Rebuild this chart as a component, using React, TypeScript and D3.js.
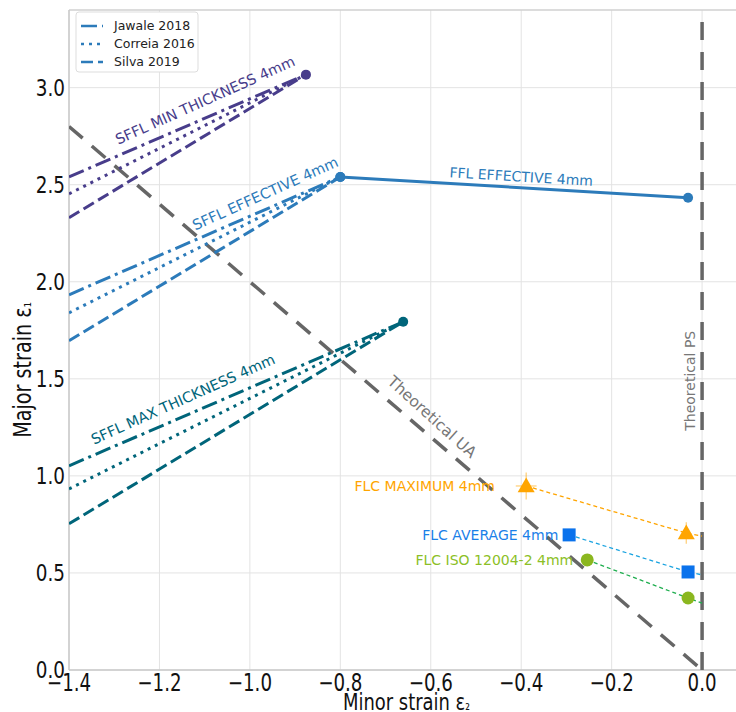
import { scaleLinear, line, range, format } from "d3";

const width = 736;
const height = 712;
const margin = { left: 69, right: 736, top: 10, bottom: 670 };

const xTicks = range(-1.4, 0.01, 0.2);
const yTicks = [0, 0.5, 1.0, 1.5, 2.0, 2.5, 3.0];

// SFFL lines: start at eps2 = -1.4, meet at tip
const sfflNames = ["SFFL MIN THICKNESS 4mm", "SFFL EFFECTIVE 4mm", "SFFL MAX THICKNESS 4mm"];
const sfflColors = ["#483d8b", "#2c7bba", "#00657a"];
const sfflTipX = [-0.876, -0.8, -0.661];
const sfflTipY = [3.067, 2.54, 1.794];
const sfflStartX = -1.4;
const jawaleStartY = [2.54, 1.933, 1.052];
const correiaStartY = [2.453, 1.84, 0.933];
const silvaStartY = [2.33, 1.696, 0.753];
const sfflLabelX = [-1.099, -0.966, -1.148];
const sfflLabelY = [2.935, 2.455, 1.395];

// FFL effective
const fflX = [-0.8, -0.031];
const fflY = [2.54, 2.433];

// FLC series
const flcNames = ["FLC MAXIMUM 4mm", "FLC AVERAGE 4mm", "FLC ISO 12004-2 4mm"];
const flcMarkerColors = ["#ffa500", "#0a72ec", "#8bb71f"];
const flcLineColors = ["#ffa500", "#1aa3e0", "#1fae4f"];
const flcTextColors = ["#ffa500", "#1a80e8", "#8cbf26"];
const flcShapes = ["triangle", "square", "circle"];
const flcX = [[-0.389, -0.035], [-0.294, -0.031], [-0.254, -0.031]];
const flcY = [[0.948, 0.706], [0.696, 0.505], [0.567, 0.371]];
const flcYAtZero = [0.69, 0.49, 0.345];
const flcYErr = [[0.07, 0.055], [0.03, 0.03], [0.03, 0.03]];
const flcXErr = [[0.023, 0.01], [0.01, 0.01], [0.01, 0.01]];
const flcLabelEndX = [-0.458, -0.318, -0.285];

const legendNames = ["Jawale 2018", "Correia 2016", "Silva 2019"];
const styleDash = ["16,5,3,5", "3,5", "12,5"];

const font = "DejaVu Sans";

const App = () => {
  const x = scaleLinear().domain([-1.4, 0.075]).range([margin.left, margin.right]);
  const y = scaleLinear().domain([0, 3.4]).range([margin.bottom, margin.top]);
  const path = line<number[]>()
    .x((d) => x(d[0]))
    .y((d) => y(d[1]));
  const fmt = format(".1f");

  const angle = (x0: number, y0: number, x1: number, y1: number) =>
    (Math.atan2(y(y1) - y(y0), x(x1) - x(x0)) * 180) / Math.PI;

  const uaAngle = angle(-1.4, 2.8, 0, 0);
  const fflAngle = angle(fflX[0], fflY[0], fflX[1], fflY[1]);

  const marker = (shape: string, cx: number, cy: number, color: string, key: string) => {
    if (shape === "triangle") {
      const s = 8.5;
      return (
        <path
          key={key}
          d={`M${cx},${cy - s} L${cx + s},${cy + s * 0.75} L${cx - s},${cy + s * 0.75} Z`}
          fill={color}
        />
      );
    }
    if (shape === "square") {
      return <rect key={key} x={cx - 6.5} y={cy - 6.5} width={13} height={13} fill={color} />;
    }
    return <circle key={key} cx={cx} cy={cy} r={6.5} fill={color} />;
  };

  return (
    <svg
      width={width}
      height={height}
      style={{ position: "absolute", left: 0, top: 0, background: "#fff" }}
      fontFamily={font}
    >
      <defs>
        <clipPath id="plot">
          <rect x={margin.left} y={margin.top} width={margin.right - margin.left} height={margin.bottom - margin.top} />
        </clipPath>
      </defs>

      {/* grid */}
      {xTicks.map((t) => (
        <line key={"gx" + t} x1={x(t)} x2={x(t)} y1={margin.top} y2={margin.bottom} stroke="#e3e3e3" strokeWidth={1} />
      ))}
      {yTicks.map((t) => (
        <line key={"gy" + t} x1={margin.left} x2={margin.right} y1={y(t)} y2={y(t)} stroke="#e3e3e3" strokeWidth={1} />
      ))}

      {/* spines */}
      <line x1={margin.left} x2={margin.right} y1={margin.top} y2={margin.top} stroke="#d0d0d0" strokeWidth={1.5} />
      <line x1={margin.left} x2={margin.left} y1={margin.top} y2={margin.bottom} stroke="#c8c8c8" strokeWidth={1.5} />
      <line x1={margin.left} x2={margin.right} y1={margin.bottom} y2={margin.bottom} stroke="#c8c8c8" strokeWidth={1.5} />

      <g clipPath="url(#plot)">
        {/* theoretical lines */}
        <path d={path([[-1.4, 2.8], [0, 0]]) || ""} stroke="#666" strokeWidth={3.5} strokeDasharray="18,12" fill="none" />
        <line x1={x(0)} x2={x(0)} y1={y(0)} y2={margin.top} stroke="#666" strokeWidth={3.5} strokeDasharray="18,12" />

        {/* SFFL lines */}
        {sfflNames.map((n, i) => {
          const starts = [jawaleStartY[i], correiaStartY[i], silvaStartY[i]];
          return (
            <g key={n}>
              {starts.map((sy, j) => (
                <path
                  key={j}
                  d={path([[sfflStartX, sy], [sfflTipX[i], sfflTipY[i]]]) || ""}
                  stroke={sfflColors[i]}
                  strokeWidth={3}
                  strokeDasharray={styleDash[j]}
                  fill="none"
                />
              ))}
              <circle cx={x(sfflTipX[i])} cy={y(sfflTipY[i])} r={5} fill={sfflColors[i]} />
            </g>
          );
        })}

        {/* FFL */}
        <path d={path(fflX.map((v, k) => [v, fflY[k]])) || ""} stroke="#2c7bba" strokeWidth={3} fill="none" />
        {fflX.map((v, k) => (
          <circle key={k} cx={x(v)} cy={y(fflY[k])} r={5} fill="#2c7bba" />
        ))}

        {/* FLC */}
        {flcNames.map((n, i) => (
          <g key={n}>
            <path
              d={path([[flcX[i][0], flcY[i][0]], [flcX[i][1], flcY[i][1]], [0, flcYAtZero[i]]]) || ""}
              stroke={flcLineColors[i]}
              strokeWidth={1.3}
              strokeDasharray="4,3"
              fill="none"
            />
            {flcX[i].map((v, k) => (
              <g key={k} stroke={flcMarkerColors[i]} strokeOpacity={0.55} strokeWidth={1.2}>
                <line x1={x(v)} x2={x(v)} y1={y(flcY[i][k] - flcYErr[i][k])} y2={y(flcY[i][k] + flcYErr[i][k])} />
                <line x1={x(v - flcXErr[i][k])} x2={x(v + flcXErr[i][k])} y1={y(flcY[i][k])} y2={y(flcY[i][k])} />
              </g>
            ))}
            {flcX[i].map((v, k) => marker(flcShapes[i], x(v), y(flcY[i][k]), flcMarkerColors[i], "m" + k))}
          </g>
        ))}
      </g>

      {/* text labels */}
      {sfflNames.map((n, i) => {
        const a = angle(sfflStartX, jawaleStartY[i], sfflTipX[i], sfflTipY[i]);
        return (
          <text
            key={n}
            transform={`translate(${x(sfflLabelX[i])},${y(sfflLabelY[i])}) rotate(${a - 0.8})`}
            textAnchor="middle"
            dy="0.35em"
            fontSize={14.5}
            fill={sfflColors[i]}
          >
            {n}
          </text>
        );
      })}
      <text
        transform={`translate(${x(-0.4)},${y(2.541)}) rotate(${fflAngle})`}
        textAnchor="middle"
        dy="0.35em"
        fontSize={14}
        fill="#2c7bba"
      >
        FFL EFFECTIVE 4mm
      </text>
      <text
        transform={`translate(${x(-0.597)},${y(1.304)}) rotate(${uaAngle + 1.5})`}
        textAnchor="middle"
        dy="0.35em"
        fontSize={15.5}
        fill="#777"
      >
        Theoretical UA
      </text>
      <text
        transform={`translate(${x(-0.026)},${y(1.49)}) rotate(-90)`}
        textAnchor="middle"
        dy="0.35em"
        fontSize={14}
        fill="#777"
      >
        Theoretical PS
      </text>
      {flcNames.map((n, i) => (
        <text
          key={n}
          x={x(flcLabelEndX[i])}
          y={y(flcY[i][0])}
          dy="0.35em"
          textAnchor="end"
          fontSize={14}
          fill={flcTextColors[i]}
        >
          {n}
        </text>
      ))}

      {/* ticks */}
      {xTicks.map((t) => (
        <text
          key={"tx" + t}
          transform={`translate(${x(t)},691) scale(0.76,1)`}
          textAnchor="middle"
          fontSize={24}
          fill="#111"
        >
          {fmt(Math.abs(t) < 1e-9 ? 0 : t)}
        </text>
      ))}
      {yTicks.map((t) => (
        <text
          key={"ty" + t}
          transform={`translate(65,${y(t)}) scale(0.8,1)`}
          dy="0.35em"
          textAnchor="end"
          fontSize={23}
          fill="#111"
        >
          {fmt(t)}
        </text>
      ))}

      {/* axis labels */}
      <text transform={`translate(${(margin.left + margin.right) / 2 + 4},710) scale(0.78,1)`} textAnchor="middle" fontSize={23} fill="#111">
        Minor strain ε<tspan fontSize={15}>₂</tspan>
      </text>
      <text transform={`translate(31,370) rotate(-90) scale(0.8,1)`} textAnchor="middle" fontSize={24} fill="#111">
        Major strain ε<tspan fontSize={16}>₁</tspan>
      </text>

      {/* legend */}
      <rect x={76} y={12} width={122} height={60} rx={3} fill="#fff" stroke="#ddd" strokeWidth={1} />
      {legendNames.map((n, j) => (
        <g key={n}>
          <line x1={81} x2={103} y1={26 + j * 18} y2={26 + j * 18} stroke="#2c7bba" strokeWidth={2.5} strokeDasharray={styleDash[j]} />
          <text x={114} y={26 + j * 18} dy="0.35em" fontSize={12.5} fill="#222">
            {n}
          </text>
        </g>
      ))}
    </svg>
  );
};

export default App;
